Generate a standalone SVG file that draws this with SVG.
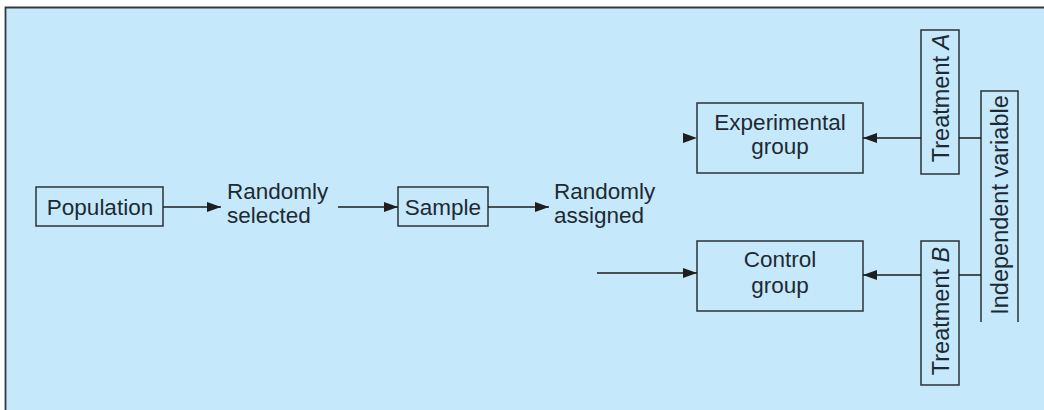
<svg xmlns="http://www.w3.org/2000/svg" width="1044" height="410" viewBox="0 0 1044 410">
<defs>
<marker id="arr" viewBox="0 0 14 10" refX="14" refY="5" markerWidth="14" markerHeight="10" markerUnits="userSpaceOnUse" orient="auto">
<path d="M0,0 L14,5 L0,10 Z" fill="#1e1e1e"/>
</marker>
</defs>
<style>
.box{fill:none;stroke:#2a3338;stroke-width:1.5}
.t{font-family:"Liberation Sans",Arial,sans-serif;font-size:22.5px;fill:#1d2a33}
.v{font-size:23.5px}
.c{text-anchor:middle}
.ln{stroke:#1e1e1e;stroke-width:1.5;fill:none}
</style>
<rect x="0" y="0" width="1044" height="410" fill="#ffffff"/>
<rect x="5" y="7" width="1045" height="410" fill="#c6e8fb"/>
<path d="M5.5,410 V7.5 H1044" fill="none" stroke="#333a3e" stroke-width="1.8"/>

<g id="population">
<rect class="box" x="36" y="187" width="127" height="39"/>
<text class="t c" x="100" y="214.5">Population</text>
</g>
<g id="randomly-selected">
<text class="t" x="227" y="199">Randomly</text>
<text class="t" x="227" y="223">selected</text>
</g>
<g id="sample">
<rect class="box" x="398" y="187" width="90" height="39"/>
<text class="t c" x="443" y="214.5">Sample</text>
</g>
<g id="randomly-assigned">
<text class="t" x="554" y="199">Randomly</text>
<text class="t" x="554" y="223">assigned</text>
</g>
<g id="experimental">
<rect class="box" x="697" y="103" width="166" height="70"/>
<text class="t c" x="780" y="130">Experimental</text>
<text class="t c" x="780" y="154">group</text>
</g>
<g id="control">
<rect class="box" x="697" y="241" width="166" height="70"/>
<text class="t c" x="780" y="267">Control</text>
<text class="t c" x="780" y="293">group</text>
</g>
<g id="treatment-a">
<rect class="box" x="921" y="30" width="38" height="144"/>
<text class="t v c" transform="translate(948.5,98) rotate(-90)">Treatment <tspan font-style="italic">A</tspan></text>
</g>
<g id="treatment-b">
<rect class="box" x="921" y="241" width="38" height="144"/>
<text class="t v c" transform="translate(948.5,311) rotate(-90)">Treatment <tspan font-style="italic">B</tspan></text>
</g>
<g id="independent-variable">
<path class="box" d="M981,322 V91 H1018 V322"/>
<text class="t v c" transform="translate(1007.5,205) rotate(-90)">Independent variable</text>
</g>

<g id="connectors">
<line class="ln" x1="163" y1="207" x2="221" y2="207" marker-end="url(#arr)"/>
<line class="ln" x1="338" y1="207" x2="398" y2="207" marker-end="url(#arr)"/>
<line class="ln" x1="488" y1="207" x2="549" y2="207" marker-end="url(#arr)"/>
<path d="M683,133 L697,138 L683,143 Z" fill="#1e1e1e"/>
<line class="ln" x1="597" y1="273" x2="697" y2="273" marker-end="url(#arr)"/>
<line class="ln" x1="921" y1="138" x2="863" y2="138" marker-end="url(#arr)"/>
<line class="ln" x1="921" y1="275" x2="863" y2="275" marker-end="url(#arr)"/>
<line class="ln" x1="981" y1="138" x2="959" y2="138"/>
<line class="ln" x1="981" y1="275" x2="959" y2="275"/>
</g>
</svg>
